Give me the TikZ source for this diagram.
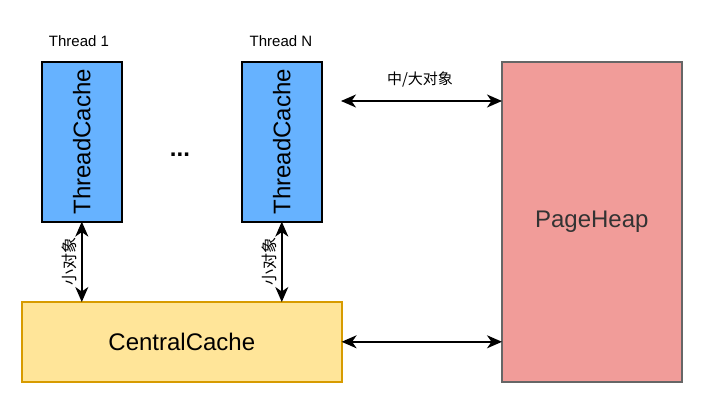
\documentclass[tikz,border=0pt]{standalone}
\usepackage{fontspec}
\setmainfont{Liberation Sans}
\newfontfamily\cjk{Noto Sans CJK SC}
\usetikzlibrary{arrows.meta}
\definecolor{tcblue}{HTML}{66B2FF}
\definecolor{ccfill}{HTML}{FFE599}
\definecolor{ccline}{HTML}{D79B00}
\definecolor{phfill}{HTML}{F19C99}
\definecolor{phline}{HTML}{666666}
\definecolor{phtext}{HTML}{333333}
\tikzset{
  box/.style={draw, line width=1.6pt, inner sep=0pt, anchor=north west},
  big/.style={font=\fontsize{24}{28}\selectfont},
  small/.style={font=\fontsize{15}{18}\selectfont},
  cjklabel/.style={font=\cjk\fontsize{15}{18}\selectfont, inner sep=0pt},
  link/.style={line width=1.8pt, {Stealth[length=15pt,width=13pt,inset=4.5pt]}-{Stealth[length=15pt,width=13pt,inset=4.5pt]}, shorten <=-1pt, shorten >=-1pt}
}
\begin{document}
\begin{tikzpicture}[x=1pt,y=-1pt]
\useasboundingbox (0,0) rectangle (702,402);
% thread caches
\node[box, fill=tcblue, minimum width=80pt, minimum height=160pt] (tc1) at (41,61) {};
\node[big, rotate=90] (tc1t) at (tc1.center) {ThreadCache};
\node[box, fill=tcblue, minimum width=80pt, minimum height=160pt] (tcn) at (241,61) {};
\node[big, rotate=90] (tcnt) at (tcn.center) {ThreadCache};
\node[small] (th1) at (79,41) {Thread 1};
\node[small] (thn) at (281,41) {Thread N};
\node[big] (dots) at (180,155) {\textbf{...}};
% central cache
\node[box, draw=ccline, fill=ccfill, minimum width=320pt, minimum height=80pt] (cc) at (21,301) {};
\node[big] (cct) at (cc.center) {CentralCache};
% page heap
\node[box, draw=phline, fill=phfill, minimum width=180pt, minimum height=320pt] (ph) at (501,61) {};
\node[big, text=phtext] (pht) at (ph.center) {PageHeap};
% connectors
\draw[link] (tc1.south) -- (tc1.south |- cc.north);
\draw[link] (tcn.south) -- (tcn.south |- cc.north);
\node[cjklabel, font=\cjk\fontsize{16}{18}\selectfont, rotate=90] (l1) at (69.5,261) {小对象};
\node[cjklabel, font=\cjk\fontsize{16}{18}\selectfont, rotate=90] (l2) at (269.5,261) {小对象};
\coordinate (tl) at (342,101);
\draw[link] (tl) -- (ph.west |- tl);
\node[cjklabel] (l3) at (420,80) {中/大对象};
\draw[link] (cc.east) -- (ph.west |- cc.east);
\end{tikzpicture}
\end{document}
